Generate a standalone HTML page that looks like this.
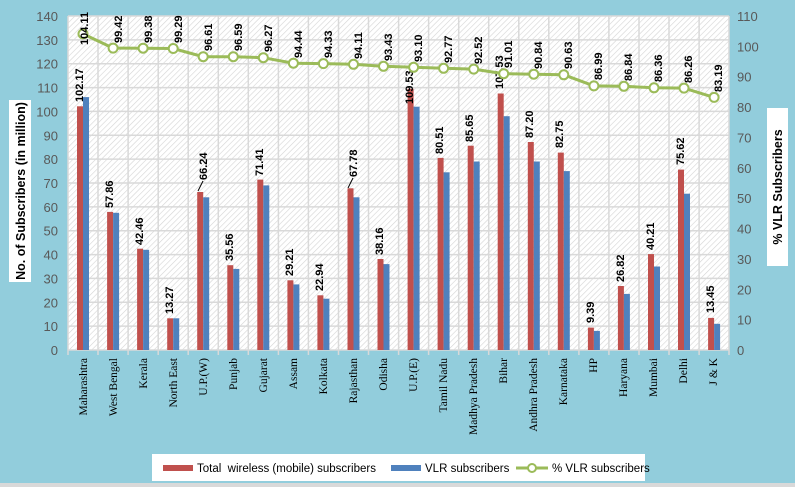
<!DOCTYPE html>
<html><head><meta charset="utf-8"><style>
html,body{margin:0;padding:0;background:#fff}
svg{display:block}
.ax{font-family:"Liberation Sans",sans-serif;font-size:13px;fill:#595959}
.dl{font-family:"Liberation Sans",sans-serif;font-size:11px;font-weight:bold;fill:#000}
.cl{font-family:"Liberation Serif",serif;font-size:11.5px;fill:#000}
.lg{font-family:"Liberation Sans",sans-serif;font-size:11.5px;fill:#000}
</style></head><body>
<svg width="795" height="487" viewBox="0 0 795 487">
<defs>
<pattern id="h" width="4" height="4" patternUnits="userSpaceOnUse" patternTransform="rotate(45)">
<rect width="4" height="4" fill="#fff"/><line x1="0" y1="0" x2="0" y2="4" stroke="#d4d4d4" stroke-width="1.2"/>
</pattern>
</defs>
<rect x="0" y="0" width="795" height="487" fill="#92cddc"/>
<rect x="0" y="483" width="795" height="4" fill="#d9d9d9"/>
<rect x="68" y="16" width="661" height="334" fill="url(#h)"/>
<g stroke="#d9d9d9" stroke-width="1.5">
<line x1="68" y1="16" x2="729" y2="16"/><line x1="68" y1="39.9" x2="729" y2="39.9"/><line x1="68" y1="63.7" x2="729" y2="63.7"/><line x1="68" y1="87.6" x2="729" y2="87.6"/><line x1="68" y1="111.4" x2="729" y2="111.4"/><line x1="68" y1="135.3" x2="729" y2="135.3"/><line x1="68" y1="159.1" x2="729" y2="159.1"/><line x1="68" y1="183" x2="729" y2="183"/><line x1="68" y1="206.9" x2="729" y2="206.9"/><line x1="68" y1="230.7" x2="729" y2="230.7"/><line x1="68" y1="254.6" x2="729" y2="254.6"/><line x1="68" y1="278.4" x2="729" y2="278.4"/><line x1="68" y1="302.3" x2="729" y2="302.3"/><line x1="68" y1="326.1" x2="729" y2="326.1"/><line x1="68" y1="350" x2="729" y2="350"/>
<line x1="68" y1="16" x2="68" y2="355"/><line x1="98" y1="16" x2="98" y2="355"/><line x1="128.1" y1="16" x2="128.1" y2="355"/><line x1="158.2" y1="16" x2="158.2" y2="355"/><line x1="188.2" y1="16" x2="188.2" y2="355"/><line x1="218.3" y1="16" x2="218.3" y2="355"/><line x1="248.3" y1="16" x2="248.3" y2="355"/><line x1="278.4" y1="16" x2="278.4" y2="355"/><line x1="308.4" y1="16" x2="308.4" y2="355"/><line x1="338.5" y1="16" x2="338.5" y2="355"/><line x1="368.5" y1="16" x2="368.5" y2="355"/><line x1="398.6" y1="16" x2="398.6" y2="355"/><line x1="428.6" y1="16" x2="428.6" y2="355"/><line x1="458.7" y1="16" x2="458.7" y2="355"/><line x1="488.7" y1="16" x2="488.7" y2="355"/><line x1="518.8" y1="16" x2="518.8" y2="355"/><line x1="548.8" y1="16" x2="548.8" y2="355"/><line x1="578.9" y1="16" x2="578.9" y2="355"/><line x1="608.9" y1="16" x2="608.9" y2="355"/><line x1="639" y1="16" x2="639" y2="355"/><line x1="669" y1="16" x2="669" y2="355"/><line x1="699.1" y1="16" x2="699.1" y2="355"/><line x1="729" y1="16" x2="729" y2="355"/>
</g>
<g class="ax" text-anchor="end">
<text x="58" y="21">140</text><text x="58" y="44.9">130</text><text x="58" y="68.7">120</text><text x="58" y="92.6">110</text><text x="58" y="116.4">100</text><text x="58" y="140.3">90</text><text x="58" y="164.1">80</text><text x="58" y="188">70</text><text x="58" y="211.9">60</text><text x="58" y="235.7">50</text><text x="58" y="259.6">40</text><text x="58" y="283.4">30</text><text x="58" y="307.3">20</text><text x="58" y="331.1">10</text><text x="58" y="355">0</text>
</g>
<g class="ax" text-anchor="start">
<text x="737" y="21">110</text><text x="737" y="51.4">100</text><text x="737" y="81.7">90</text><text x="737" y="112.1">80</text><text x="737" y="142.5">70</text><text x="737" y="172.8">60</text><text x="737" y="203.2">50</text><text x="737" y="233.5">40</text><text x="737" y="263.9">30</text><text x="737" y="294.3">20</text><text x="737" y="324.6">10</text><text x="737" y="355">0</text>
</g>
<rect x="9" y="100" width="22" height="182" fill="#fff"/>
<text transform="translate(25,191) rotate(-90)" text-anchor="middle" style="font-family:'Liberation Sans',sans-serif;font-size:12.5px;font-weight:bold">No. of Subscribers (in million)</text>
<rect x="767" y="108" width="21" height="158" fill="#fff"/>
<text transform="translate(782,187) rotate(-90)" text-anchor="middle" style="font-family:'Liberation Sans',sans-serif;font-size:12.5px;font-weight:bold">% VLR Subscribers</text>
<g fill="#c0504d">
<rect x="77" y="106.3" width="6" height="243.7"/><rect x="107.1" y="211.9" width="6" height="138.1"/><rect x="137.1" y="248.7" width="6" height="101.3"/><rect x="167.2" y="318.3" width="6" height="31.7"/><rect x="197.2" y="192" width="6" height="158"/><rect x="227.3" y="265.2" width="6" height="84.8"/><rect x="257.3" y="179.6" width="6" height="170.4"/><rect x="287.4" y="280.3" width="6" height="69.7"/><rect x="317.4" y="295.3" width="6" height="54.7"/><rect x="347.5" y="188.3" width="6" height="161.7"/><rect x="377.5" y="259" width="6" height="91"/><rect x="407.6" y="88.7" width="6" height="261.3"/><rect x="437.6" y="157.9" width="6" height="192.1"/><rect x="467.7" y="145.7" width="6" height="204.3"/><rect x="497.7" y="93.5" width="6" height="256.5"/><rect x="527.8" y="142" width="6" height="208"/><rect x="557.8" y="152.6" width="6" height="197.4"/><rect x="587.9" y="327.6" width="6" height="22.4"/><rect x="617.9" y="286" width="6" height="64"/><rect x="648" y="254.1" width="6" height="95.9"/><rect x="678" y="169.6" width="6" height="180.4"/><rect x="708.1" y="317.9" width="6" height="32.1"/>
</g>
<g fill="#4f81bd">
<rect x="83" y="97.1" width="6" height="252.9"/><rect x="113.1" y="212.8" width="6" height="137.2"/><rect x="143.1" y="249.8" width="6" height="100.2"/><rect x="173.2" y="318.3" width="6" height="31.7"/><rect x="203.2" y="197.3" width="6" height="152.7"/><rect x="233.3" y="268.9" width="6" height="81.1"/><rect x="263.3" y="185.4" width="6" height="164.6"/><rect x="293.4" y="284.4" width="6" height="65.6"/><rect x="323.4" y="298.7" width="6" height="51.3"/><rect x="353.5" y="197.3" width="6" height="152.7"/><rect x="383.5" y="264.1" width="6" height="85.9"/><rect x="413.6" y="106.7" width="6" height="243.3"/><rect x="443.6" y="172.3" width="6" height="177.7"/><rect x="473.7" y="161.5" width="6" height="188.5"/><rect x="503.7" y="116.2" width="6" height="233.8"/><rect x="533.8" y="161.5" width="6" height="188.5"/><rect x="563.8" y="171.1" width="6" height="178.9"/><rect x="593.9" y="330.9" width="6" height="19.1"/><rect x="623.9" y="293.9" width="6" height="56.1"/><rect x="654" y="266.5" width="6" height="83.5"/><rect x="684" y="193.7" width="6" height="156.3"/><rect x="714.1" y="323.8" width="6" height="26.2"/>
</g>
<g stroke="#000" stroke-width="1"><line x1="198" y1="191" x2="203" y2="181"/><line x1="348" y1="188" x2="353" y2="178"/></g>
<g class="dl" text-anchor="start">
<text transform="translate(83,102) rotate(-90)">102.17</text>
<text transform="translate(113,208) rotate(-90)">57.86</text>
<text transform="translate(143,245) rotate(-90)">42.46</text>
<text transform="translate(173,314) rotate(-90)">13.27</text>
<text transform="translate(207,180) rotate(-90)">66.24</text>
<text transform="translate(233,261) rotate(-90)">35.56</text>
<text transform="translate(263,176) rotate(-90)">71.41</text>
<text transform="translate(293,276) rotate(-90)">29.21</text>
<text transform="translate(323,291) rotate(-90)">22.94</text>
<text transform="translate(357,177) rotate(-90)">67.78</text>
<text transform="translate(383,255) rotate(-90)">38.16</text>
<text transform="translate(413,104) rotate(-90)">109.53</text>
<text transform="translate(443,154) rotate(-90)">80.51</text>
<text transform="translate(473,142) rotate(-90)">85.65</text>
<text transform="translate(503,89) rotate(-90)">107.53</text>
<text transform="translate(533,138) rotate(-90)">87.20</text>
<text transform="translate(563,148) rotate(-90)">82.75</text>
<text transform="translate(594,323) rotate(-90)">9.39</text>
<text transform="translate(624,282) rotate(-90)">26.82</text>
<text transform="translate(654,250) rotate(-90)">40.21</text>
<text transform="translate(684,165) rotate(-90)">75.62</text>
<text transform="translate(714,313) rotate(-90)">13.45</text>
</g>
<polyline fill="none" stroke="#9bbb59" stroke-width="3" points="83,33.9 113.1,48.1 143.1,48.2 173.2,48.5 203.2,56.7 233.3,56.7 263.3,57.7 293.4,63.2 323.4,63.6 353.5,64.3 383.5,66.3 413.6,67.3 443.6,68.3 473.7,69.1 503.7,73.7 533.8,74.2 563.8,74.8 593.9,85.9 623.9,86.3 654,87.8 684,88.1 714.1,97.4"/>
<g fill="#fff" stroke="#9bbb59" stroke-width="2">
<circle cx="83" cy="33.9" r="4.5"/><circle cx="113.1" cy="48.1" r="4.5"/><circle cx="143.1" cy="48.2" r="4.5"/><circle cx="173.2" cy="48.5" r="4.5"/><circle cx="203.2" cy="56.7" r="4.5"/><circle cx="233.3" cy="56.7" r="4.5"/><circle cx="263.3" cy="57.7" r="4.5"/><circle cx="293.4" cy="63.2" r="4.5"/><circle cx="323.4" cy="63.6" r="4.5"/><circle cx="353.5" cy="64.3" r="4.5"/><circle cx="383.5" cy="66.3" r="4.5"/><circle cx="413.6" cy="67.3" r="4.5"/><circle cx="443.6" cy="68.3" r="4.5"/><circle cx="473.7" cy="69.1" r="4.5"/><circle cx="503.7" cy="73.7" r="4.5"/><circle cx="533.8" cy="74.2" r="4.5"/><circle cx="563.8" cy="74.8" r="4.5"/><circle cx="593.9" cy="85.9" r="4.5"/><circle cx="623.9" cy="86.3" r="4.5"/><circle cx="654" cy="87.8" r="4.5"/><circle cx="684" cy="88.1" r="4.5"/><circle cx="714.1" cy="97.4" r="4.5"/>
</g>
<g class="dl" text-anchor="start">
<text transform="translate(88,45) rotate(-90)">104.11</text>
<text transform="translate(122,43) rotate(-90)">99.42</text>
<text transform="translate(152,43) rotate(-90)">99.38</text>
<text transform="translate(182,43) rotate(-90)">99.29</text>
<text transform="translate(212,51) rotate(-90)">96.61</text>
<text transform="translate(242,51) rotate(-90)">96.59</text>
<text transform="translate(272,52) rotate(-90)">96.27</text>
<text transform="translate(302,58) rotate(-90)">94.44</text>
<text transform="translate(332,58) rotate(-90)">94.33</text>
<text transform="translate(362,59) rotate(-90)">94.11</text>
<text transform="translate(392,61) rotate(-90)">93.43</text>
<text transform="translate(422,62) rotate(-90)">93.10</text>
<text transform="translate(452,63) rotate(-90)">92.77</text>
<text transform="translate(482,64) rotate(-90)">92.52</text>
<text transform="translate(512,68) rotate(-90)">91.01</text>
<text transform="translate(542,69) rotate(-90)">90.84</text>
<text transform="translate(572,69) rotate(-90)">90.63</text>
<text transform="translate(602,80) rotate(-90)">86.99</text>
<text transform="translate(632,81) rotate(-90)">86.84</text>
<text transform="translate(662,82) rotate(-90)">86.36</text>
<text transform="translate(692,83) rotate(-90)">86.26</text>
<text transform="translate(722,92) rotate(-90)">83.19</text>
</g>
<g class="cl" text-anchor="end">
<text transform="translate(87,358) rotate(-90)">Maharashtra</text>
<text transform="translate(117,358) rotate(-90)">West Bengal</text>
<text transform="translate(147,358) rotate(-90)">Kerala</text>
<text transform="translate(177,358) rotate(-90)">North East</text>
<text transform="translate(207,358) rotate(-90)">U.P.(W)</text>
<text transform="translate(237,358) rotate(-90)">Punjab</text>
<text transform="translate(267,358) rotate(-90)">Gujarat</text>
<text transform="translate(297,358) rotate(-90)">Assam</text>
<text transform="translate(327,358) rotate(-90)">Kolkata</text>
<text transform="translate(357,358) rotate(-90)">Rajasthan</text>
<text transform="translate(387,358) rotate(-90)">Odisha</text>
<text transform="translate(417,358) rotate(-90)">U.P.(E)</text>
<text transform="translate(447,358) rotate(-90)">Tamil Nadu</text>
<text transform="translate(477,358) rotate(-90)">Madhya Pradesh</text>
<text transform="translate(507,358) rotate(-90)">Bihar</text>
<text transform="translate(537,358) rotate(-90)">Andhra Pradesh</text>
<text transform="translate(567,358) rotate(-90)">Karnataka</text>
<text transform="translate(597,358) rotate(-90)">HP</text>
<text transform="translate(627,358) rotate(-90)">Haryana</text>
<text transform="translate(657,358) rotate(-90)">Mumbai</text>
<text transform="translate(687,358) rotate(-90)">Delhi</text>
<text transform="translate(717,358) rotate(-90)">J &amp; K</text>
</g>
<rect x="152" y="454" width="493" height="27" fill="#fff"/>
<rect x="163" y="465" width="30" height="6" fill="#c0504d"/>
<text class="lg" x="197" y="472">Total&#160; wireless (mobile) subscribers</text>
<rect x="391" y="465" width="30" height="6" fill="#4f81bd"/>
<text class="lg" x="425" y="472">VLR subscribers</text>
<line x1="516" y1="468" x2="548" y2="468" stroke="#9bbb59" stroke-width="3"/>
<circle cx="532" cy="468" r="4" fill="#fff" stroke="#9bbb59" stroke-width="2"/>
<text class="lg" x="552" y="472">% VLR subscribers</text>
</svg>
</body></html>
